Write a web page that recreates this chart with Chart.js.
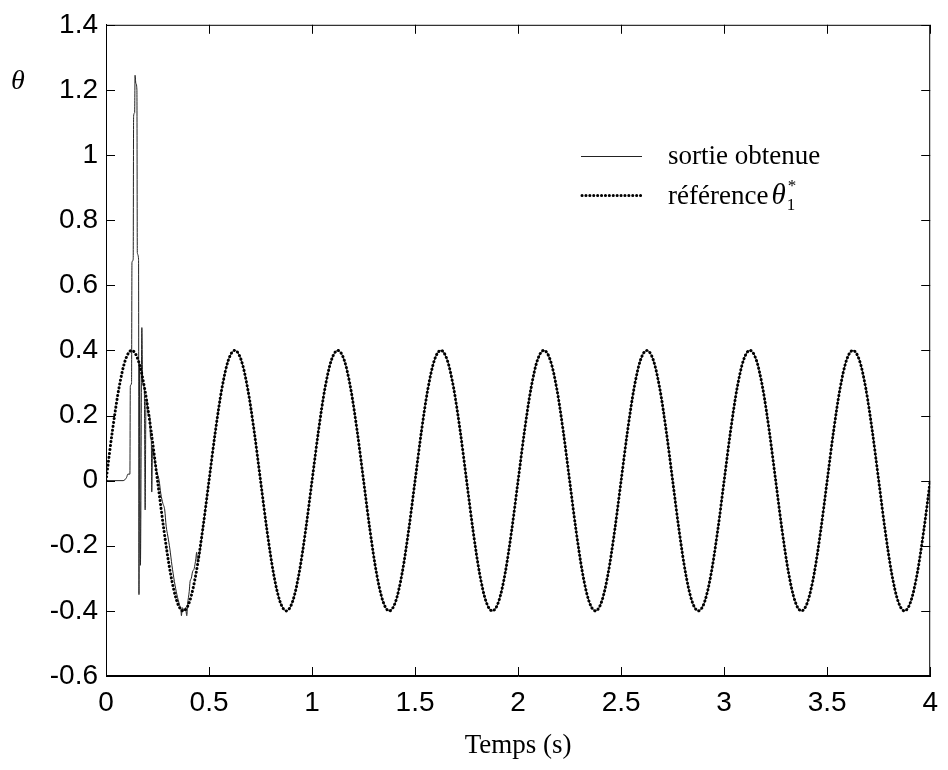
<!DOCTYPE html>
<html>
<head>
<meta charset="utf-8">
<script src="https://cdn.jsdelivr.net/npm/chart.js@4.4.1/dist/chart.umd.min.js"></script>
<style>
  html, body { margin: 0; padding: 0; background: #fff; }
  #wrap { width: 948px; height: 770px; }
</style>
</head>
<body>
<div id="wrap"><canvas id="thetaChart" width="948" height="770"></canvas></div>
<script>
// Reference theta1* (dotted), sampled every 1/32 s
const refTimes = [
  0, 0.03125, 0.0625, 0.09375, 0.125, 0.15625, 0.1875, 0.21875, 0.25, 0.28125, 0.3125, 0.34375, 0.375, 0.40625, 0.4375, 0.46875,
  0.5, 0.53125, 0.5625, 0.59375, 0.625, 0.65625, 0.6875, 0.71875, 0.75, 0.78125, 0.8125, 0.84375, 0.875, 0.90625, 0.9375, 0.96875,
  1, 1.03125, 1.0625, 1.09375, 1.125, 1.15625, 1.1875, 1.21875, 1.25, 1.28125, 1.3125, 1.34375, 1.375, 1.40625, 1.4375, 1.46875,
  1.5, 1.53125, 1.5625, 1.59375, 1.625, 1.65625, 1.6875, 1.71875, 1.75, 1.78125, 1.8125, 1.84375, 1.875, 1.90625, 1.9375, 1.96875,
  2, 2.03125, 2.0625, 2.09375, 2.125, 2.15625, 2.1875, 2.21875, 2.25, 2.28125, 2.3125, 2.34375, 2.375, 2.40625, 2.4375, 2.46875,
  2.5, 2.53125, 2.5625, 2.59375, 2.625, 2.65625, 2.6875, 2.71875, 2.75, 2.78125, 2.8125, 2.84375, 2.875, 2.90625, 2.9375, 2.96875,
  3, 3.03125, 3.0625, 3.09375, 3.125, 3.15625, 3.1875, 3.21875, 3.25, 3.28125, 3.3125, 3.34375, 3.375, 3.40625, 3.4375, 3.46875,
  3.5, 3.53125, 3.5625, 3.59375, 3.625, 3.65625, 3.6875, 3.71875, 3.75, 3.78125, 3.8125, 3.84375, 3.875, 3.90625, 3.9375, 3.96875,
  4
];
const refValues = [
  0, 0.153, 0.283, 0.37, 0.4, 0.37, 0.283, 0.153, 0, -0.153, -0.283, -0.37, -0.4, -0.37, -0.283, -0.153,
  0, 0.153, 0.283, 0.37, 0.4, 0.37, 0.283, 0.153, 0, -0.153, -0.283, -0.37, -0.4, -0.37, -0.283, -0.153,
  0, 0.153, 0.283, 0.37, 0.4, 0.37, 0.283, 0.153, 0, -0.153, -0.283, -0.37, -0.4, -0.37, -0.283, -0.153,
  0, 0.153, 0.283, 0.37, 0.4, 0.37, 0.283, 0.153, 0, -0.153, -0.283, -0.37, -0.4, -0.37, -0.283, -0.153,
  0, 0.153, 0.283, 0.37, 0.4, 0.37, 0.283, 0.153, 0, -0.153, -0.283, -0.37, -0.4, -0.37, -0.283, -0.153,
  0, 0.153, 0.283, 0.37, 0.4, 0.37, 0.283, 0.153, 0, -0.153, -0.283, -0.37, -0.4, -0.37, -0.283, -0.153,
  0, 0.153, 0.283, 0.37, 0.4, 0.37, 0.283, 0.153, 0, -0.153, -0.283, -0.37, -0.4, -0.37, -0.283, -0.153,
  0, 0.153, 0.283, 0.37, 0.4, 0.37, 0.283, 0.153, 0, -0.153, -0.283, -0.37, -0.4, -0.37, -0.283, -0.153,
  0
];

// Obtained output: start-up transient, then it sits on the reference
const outTimes = [
  0, 0.083, 0.1, 0.106, 0.116, 0.118, 0.124, 0.126, 0.132, 0.134, 0.139, 0.141, 0.145, 0.15,
  0.152, 0.158, 0.16, 0.163, 0.167, 0.174, 0.178, 0.186, 0.19, 0.194, 0.2, 0.206, 0.212, 0.216,
  0.22, 0.222, 0.226, 0.234, 0.242, 0.25, 0.258, 0.266, 0.276, 0.285, 0.292, 0.3, 0.31, 0.32,
  0.332, 0.344, 0.356, 0.364, 0.366, 0.37, 0.38, 0.386, 0.392, 0.396, 0.404, 0.408, 0.414, 0.42,
  0.428, 0.436, 0.44, 0.444
];
const outValues = [
  0, 0, 0.01, 0.02, 0.02, 0.29, 0.3, 0.67, 0.68, 1.12, 1.13, 1.245, 1.22, 1.2,
  0.7, 0.68, -0.35, 0.36, -0.26, 0.47, 0.3, 0.28, -0.09, 0.25, 0.24, 0.2, 0.2, 0.13,
  0.12, -0.035, 0.1, 0.07, 0.04, 0.02, 0, -0.04, -0.07, -0.09, -0.14, -0.17, -0.21, -0.26,
  -0.31, -0.35, -0.38, -0.4, -0.415, -0.39, -0.4, -0.39, -0.415, -0.38, -0.34, -0.31, -0.3, -0.28,
  -0.27, -0.24, -0.22, -0.25
];

const xTickStep = 0.5;
const yTickStep = 0.2;

const refPoints = refTimes.map((t, i) => ({ x: t, y: refValues[i] }));
const outPoints = outTimes.map((t, i) => ({ x: t, y: outValues[i] }))
  .concat(refPoints.filter(p => p.x > 0.45));

const serif = '"Liberation Serif", "Times New Roman", serif';
const sans = '"Liberation Sans", Arial, sans-serif';
const fmt = v => String(Number(v.toFixed(1)));

// Box, inward ticks, axis symbol and legend
const decorPlugin = {
  id: 'decor',
  afterDraw(chart) {
    const { ctx, chartArea: a, scales: { x, y } } = chart;
    ctx.save();
    ctx.strokeStyle = '#000';
    ctx.lineWidth = 1;
    ctx.strokeRect(a.left + 0.5, a.top + 0.5, a.right - a.left - 1, a.bottom - a.top - 1);

    ctx.beginPath();
    x.ticks.forEach(t => {
      const px = Math.round(x.getPixelForValue(t.value)) + 0.5;
      ctx.moveTo(px, a.bottom); ctx.lineTo(px, a.bottom - 9);
      ctx.moveTo(px, a.top); ctx.lineTo(px, a.top + 9);
    });
    y.ticks.forEach(t => {
      const py = Math.round(y.getPixelForValue(t.value)) + 0.5;
      ctx.moveTo(a.left, py); ctx.lineTo(a.left + 9, py);
      ctx.moveTo(a.right, py); ctx.lineTo(a.right - 9, py);
    });
    ctx.stroke();

    ctx.fillStyle = '#000';
    ctx.textAlign = 'center';
    ctx.textBaseline = 'middle';
    ctx.font = 'italic 28px ' + serif;
    ctx.fillText('θ', 18, 82);

    // legend
    ctx.beginPath();
    ctx.strokeStyle = '#222';
    ctx.lineWidth = 1;
    ctx.moveTo(581, 156.5); ctx.lineTo(642, 156.5);
    ctx.stroke();

    ctx.beginPath();
    ctx.strokeStyle = '#000';
    ctx.lineWidth = 3;
    ctx.lineCap = 'round';
    ctx.setLineDash([0.1, 3.8]);
    ctx.moveTo(582, 195.5); ctx.lineTo(641, 195.5);
    ctx.stroke();
    ctx.setLineDash([]);

    ctx.textAlign = 'left';
    ctx.textBaseline = 'alphabetic';
    ctx.font = '27px ' + serif;
    ctx.fillText('sortie obtenue', 668, 164);
    ctx.fillText('référence', 668, 204);
    let cx = 668 + ctx.measureText('référence').width + 3;
    ctx.font = 'italic 29px ' + serif;
    ctx.fillText('θ', cx, 204);
    cx += ctx.measureText('θ').width + 1;
    ctx.font = '17px ' + serif;
    ctx.fillText('1', cx, 210);
    ctx.fillText('*', cx + 1, 191);
    ctx.restore();
  }
};

const ctx = document.getElementById('thetaChart').getContext('2d');
new Chart(ctx, {
  type: 'line',
  data: {
    datasets: [{
      label: 'référence θ1*',
      data: refPoints,
      order: 0,
      borderColor: '#000',
      borderWidth: 3,
      borderDash: [0.1, 3.8],
      borderCapStyle: 'round',
      cubicInterpolationMode: 'monotone',
      pointRadius: 0,
      fill: false
    }, {
      label: 'sortie obtenue',
      data: outPoints,
      order: 1,
      borderColor: '#222',
      borderWidth: 1,
      cubicInterpolationMode: 'monotone',
      pointRadius: 0,
      fill: false
    }]
  },
  options: {
    responsive: false,
    animation: false,
    layout: { padding: { left: 0, right: 15, top: 17, bottom: 0 } },
    plugins: {
      legend: { display: false },
      tooltip: { enabled: false }
    },
    scales: {
      x: {
        type: 'linear',
        min: 0,
        max: 4,
        ticks: {
          stepSize: xTickStep,
          color: '#000',
          padding: 10,
          maxRotation: 0,
          font: { family: sans, size: 28 },
          callback: fmt
        },
        grid: { display: false, drawTicks: false },
        border: { display: true, color: '#000', width: 1 },
        title: {
          display: true,
          text: 'Temps (s)',
          color: '#000',
          font: { family: serif, size: 27 },
          padding: { top: 0, bottom: 8 }
        },
        afterFit(scale) { scale.height = 94; }
      },
      y: {
        type: 'linear',
        min: -0.6,
        max: 1.4,
        ticks: {
          stepSize: yTickStep,
          color: '#000',
          padding: 8,
          font: { family: sans, size: 28 },
          callback: fmt
        },
        grid: { display: false, drawTicks: false },
        border: { display: true, color: '#000', width: 1 },
        afterFit(scale) { scale.width = 106; }
      }
    }
  },
  plugins: [decorPlugin]
});
</script>
</body>
</html>
